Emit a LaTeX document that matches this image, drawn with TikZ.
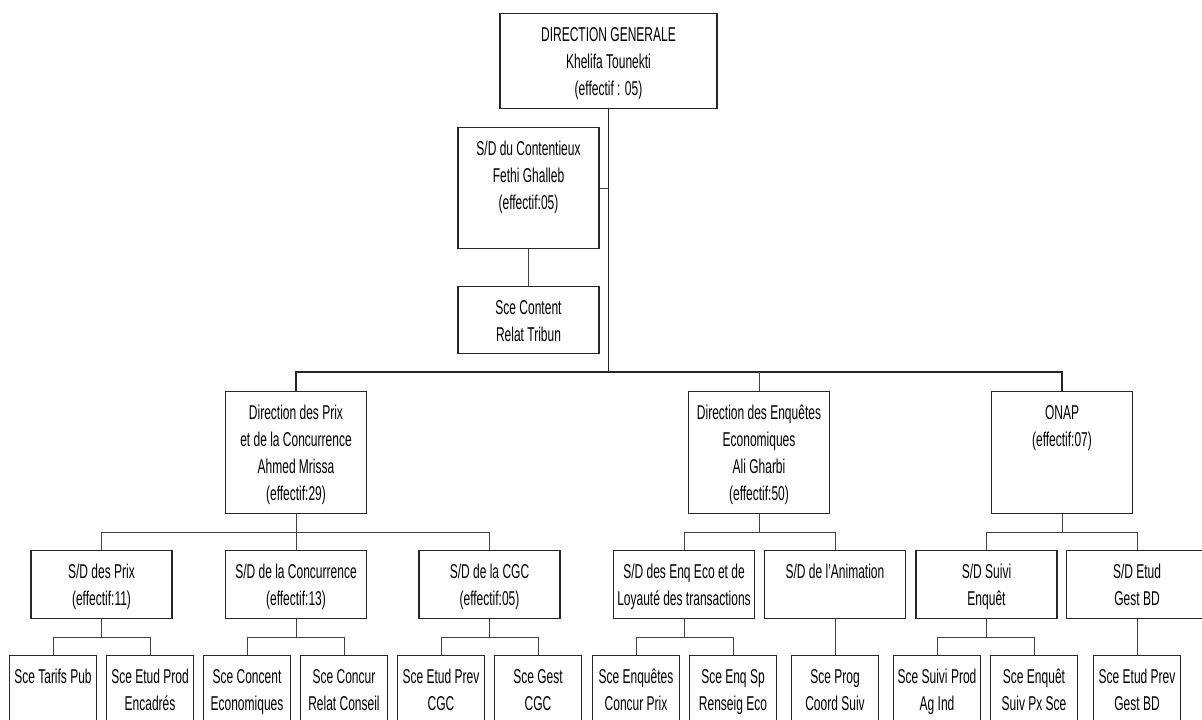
\documentclass[tikz,border=0pt]{standalone}
\usepackage{fontspec}
\setmainfont{Liberation Sans}[FakeStretch=0.6]
\usetikzlibrary{calc}

\newcommand\orgfont{\fontsize{20}{27}\selectfont}
\newcommand\boxtext[3]{\parbox[c][#2][t]{#1}{\centering\vspace*{9pt}\strut #3}}

\tikzset{
  unit/.style={draw=black!85, line width=1.1pt, inner sep=0pt, anchor=north, font=\orgfont},
  link/.style={draw=black!75, line width=0.9pt},
  mainlink/.style={draw=black!85, line width=1.4pt}
}

\begin{document}
\begin{tikzpicture}[x=1pt,y=-1pt]
  \clip (0,0) rectangle (1202,720);
  \fill[white] (0,0) rectangle (1202,720);
  % direction generale
  \node[unit] (dg) at (608.5,13) {\boxtext{217pt}{95pt}{DIRECTION GENERALE\\Khelifa Tounekti\\(effectif : 05)}};
  \node[unit] (contx) at (528.5,127) {\boxtext{141pt}{121pt}{S/D du Contentieux\\Fethi Ghalleb\\(effectif:05)}};
  \node[unit] (sctrib) at (528.5,286) {\boxtext{141pt}{67pt}{Sce Content\\Relat Tribun}};
  % directions
  \node[unit] (dprix) at (296,391) {\boxtext{141pt}{122pt}{Direction des Prix\\et de la Concurrence\\Ahmed Mrissa\\(effectif:29)}};
  \node[unit] (denq) at (759,391) {\boxtext{141pt}{122pt}{Direction des Enquêtes\\Economiques\\Ali Gharbi\\(effectif:50)}};
  \node[unit] (onap) at (1062,391) {\boxtext{141pt}{122pt}{ONAP\\(effectif:07)}};
  % sous-directions
  \node[unit] (sdprix) at (101.5,550) {\boxtext{141pt}{68pt}{S/D des Prix\\(effectif:11)}};
  \node[unit] (sdconc) at (296,550) {\boxtext{141pt}{68pt}{S/D de la Concurrence\\(effectif:13)}};
  \node[unit] (sdcgc) at (489.5,550) {\boxtext{141pt}{68pt}{S/D de la CGC\\(effectif:05)}};
  \node[unit] (sdenq) at (684,550) {\boxtext{141pt}{68pt}{S/D des Enq Eco et de\\Loyauté des transactions}};
  \node[unit] (sdanim) at (835,550) {\boxtext{141pt}{68pt}{S/D de l'Animation}};
  \node[unit] (sdsuivi) at (986.5,550) {\boxtext{141pt}{68pt}{S/D Suivi\\Enquêt}};
  \node[unit] (sdetud) at (1137,550) {\boxtext{141pt}{68pt}{S/D Etud\\Gest BD}};
  % services
  \node[unit] (scetarif) at (53,655) {\boxtext{87pt}{80pt}{Sce Tarifs Pub}};
  \node[unit] (sceprod) at (150,655) {\boxtext{87pt}{80pt}{Sce Etud Prod\\Encadrés}};
  \node[unit] (sceconcent) at (247,655) {\boxtext{87pt}{80pt}{Sce Concent\\Economiques}};
  \node[unit] (sceconcur) at (344,655) {\boxtext{87pt}{80pt}{Sce Concur\\Relat Conseil}};
  \node[unit] (sceprevcgc) at (441,655) {\boxtext{87pt}{80pt}{Sce Etud Prev\\CGC}};
  \node[unit] (scegest) at (538,655) {\boxtext{87pt}{80pt}{Sce Gest\\CGC}};
  \node[unit] (sceenq) at (636,655) {\boxtext{87pt}{80pt}{Sce Enquêtes\\Concur Prix}};
  \node[unit] (scesp) at (733,655) {\boxtext{87pt}{80pt}{Sce Enq Sp\\Renseig Eco}};
  \node[unit] (sceprog) at (835,655) {\boxtext{87pt}{80pt}{Sce Prog\\Coord Suiv}};
  \node[unit] (scesuivi) at (937,655) {\boxtext{87pt}{80pt}{Sce Suivi Prod\\Ag Ind}};
  \node[unit] (scepx) at (1034,655) {\boxtext{87pt}{80pt}{Sce Enquêt\\Suiv Px Sce}};
  \node[unit] (sceprevbd) at (1137,655) {\boxtext{87pt}{80pt}{Sce Etud Prev\\Gest BD}};

  % liens
  \draw[mainlink] (dg.south) -- ($(dg.south |- dprix.north)+(0,-19)$);
  \draw[mainlink] (dprix.north) -- ++(0,-19) -| (onap.north);
  \draw[link] (denq.north) -- ++(0,-19);
  \draw[link] (contx.east) -- (contx.east -| dg.south);
  \draw[link] (contx.south) -- (sctrib.north);
  \draw[link] (dprix.south) -- (sdconc.north);
  \draw[link] (sdprix.north) -- ++(0,-18) -| (sdcgc.north);
  \draw[link] (denq.south) -- ++(0,19);
  \draw[link] (sdenq.north) -- ++(0,-18) -| (sdanim.north);
  \draw[link] (onap.south) -- ++(0,19);
  \draw[link] (sdsuivi.north) -- ++(0,-18) -| (sdetud.north);
  \foreach \p/\a/\b in {sdprix/scetarif/sceprod, sdconc/sceconcent/sceconcur,
      sdcgc/sceprevcgc/scegest, sdenq/sceenq/scesp, sdsuivi/scesuivi/scepx} {
    \draw[link] (\p.south) -- ++(0,19);
    \draw[link] (\a.north) -- ++(0,-18) -| (\b.north);
  }
  \draw[link] (sdanim.south) -- (sceprog.north);
  \draw[link] (sdetud.south) -- (sceprevbd.north);
\end{tikzpicture}
\end{document}
